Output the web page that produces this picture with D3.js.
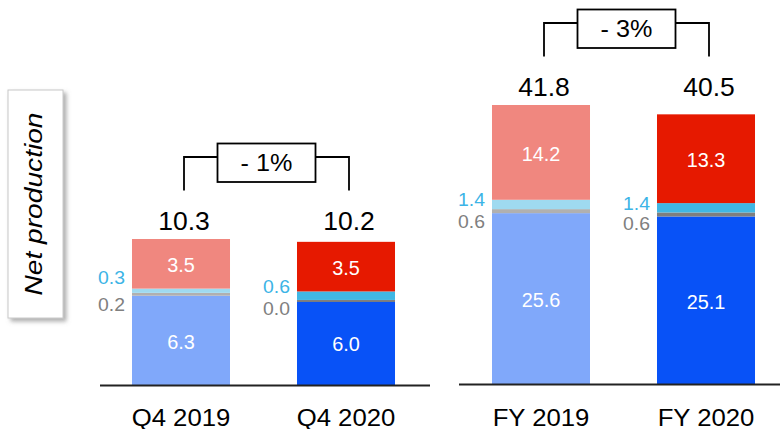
<html>
<head>
<meta charset="utf-8">
<script src="https://cdnjs.cloudflare.com/ajax/libs/d3/7.8.5/d3.min.js"></script>
<style>
  body { margin: 0; background: #fff; }
  text { font-family: "Liberation Sans", Arial, sans-serif; }
</style>
</head>
<body>
<div id="chart"></div>
<script>
"use strict";

// ---- data ----
var quarterLabels = ["Q4 2019", "Q4 2020"];
var quarterBase   = [6.3, 6.0];
var quarterGrey   = [0.2, 0.0];
var quarterCyan   = [0.3, 0.6];
var quarterRed    = [3.5, 3.5];
var quarterTotal  = [10.3, 10.2];
var quarterChange = "- 1%";

var yearLabels = ["FY 2019", "FY 2020"];
var yearBase   = [25.6, 25.1];
var yearGrey   = [0.6, 0.6];
var yearCyan   = [1.4, 1.4];
var yearRed    = [14.2, 13.3];
var yearTotal  = [41.8, 40.5];
var yearChange = "- 3%";

// colours: index 0 = 2019 (pale), index 1 = 2020 (strong)
var colBase = ["#80A8FA", "#0852F7"];
var colGrey = ["#B0B0B0", "#7F7F7F"];
var colCyan = ["#9FDAF0", "#40B7E4"];
var colRed  = ["#F0877F", "#E61900"];

var W = 780, H = 429;
var SX = 1.02; // slide text is a touch wider than Liberation

var svg = d3.select("#chart").append("svg")
  .attr("width", W).attr("height", H);

// shadow for the little y label card
var defs = svg.append("defs");
var f = defs.append("filter").attr("id", "shadow")
  .attr("x", "-20%").attr("y", "-10%").attr("width", "150%").attr("height", "130%");
f.append("feDropShadow").attr("dx", 3).attr("dy", 3).attr("stdDeviation", 2)
  .attr("flood-color", "#777").attr("flood-opacity", 0.6);

// helper to put text on the page
function label(g, x, y, str, size, color, anchor, sx) {
  return g.append("text")
    .attr("transform", "translate(" + x + "," + y + ") scale(" + (sx || SX) + ",1)")
    .attr("text-anchor", anchor || "middle")
    .style("font-size", size + "px")
    .style("fill", color)
    .text(str);
}

// ---- y label card ----
svg.append("rect")
  .attr("x", 8).attr("y", 90).attr("width", 55).attr("height", 228)
  .attr("fill", "#fff").attr("stroke", "#c8c8c8").attr("stroke-width", 1)
  .attr("filter", "url(#shadow)");
svg.append("text")
  .attr("transform", "translate(42,204) rotate(-90)")
  .attr("text-anchor", "middle")
  .attr("textLength", 183).attr("lengthAdjust", "spacingAndGlyphs")
  .style("font-size", "24px").style("font-style", "italic").style("fill", "#000")
  .text("Net production");

// ---- panels ----
var panels = [
  {
    cats: quarterLabels, base: quarterBase, grey: quarterGrey, cyan: quarterCyan,
    red: quarterRed, total: quarterTotal, change: quarterChange,
    x: d3.scaleBand().domain(quarterLabels).range([98.5, 428.5]).paddingInner(0.406).paddingOuter(0.203),
    y: d3.scaleLinear().domain([0, 10.3]).range([385, 239]),
    axis: [100, 430],
    // nudges for the small side labels (cyan up, grey down)
    nudgeCyan: [-14, -9.5], nudgeGrey: [10, 8]
  },
  {
    cats: yearLabels, base: yearBase, grey: yearGrey, cyan: yearCyan,
    red: yearRed, total: yearTotal, change: yearChange,
    x: d3.scaleBand().domain(yearLabels).range([458.5, 788.5]).paddingInner(0.406).paddingOuter(0.203),
    y: d3.scaleLinear().domain([0, 41.8]).range([384, 105]),
    axis: [459, 780],
    nudgeCyan: [-5, -5], nudgeGrey: [10, 9]
  }
];

panels.forEach(function (p) {
  var g = svg.append("g");
  var x = p.x, y = p.y;
  var bw = x.bandwidth();

  p.cats.forEach(function (cat, i) {
    var x0 = x(cat);
    var cx = x0 + bw / 2;
    // stack from the bottom up
    var segs = [
      { v: p.base[i], c: colBase[i] },
      { v: p.grey[i], c: colGrey[i] },
      { v: p.cyan[i], c: colCyan[i] },
      { v: p.red[i],  c: colRed[i] }
    ];
    var cum = 0;
    segs.forEach(function (s) {
      s.y0 = cum; cum += s.v; s.y1 = cum;
      var top = y(s.y1), h = y(s.y0) - y(s.y1);
      // zero values still show a hairline on the slide
      if (h < 2) h = 2;
      g.append("rect")
        .attr("x", x0).attr("y", top).attr("width", bw).attr("height", h)
        .attr("fill", s.c);
    });

    // white labels inside the big segments
    [segs[0], segs[3]].forEach(function (s) {
      var mid = (y(s.y0) + y(s.y1)) / 2;
      label(g, cx, mid + 8.5, s.v.toFixed(1), 19.5, "#fff");
    });

    // small labels to the left of the bar
    var cyMid = (y(segs[2].y0) + y(segs[2].y1)) / 2;
    var gyMid = (y(segs[1].y0) + y(segs[1].y1)) / 2;
    label(g, x0 - 7, cyMid + p.nudgeCyan[i] + 7, segs[2].v.toFixed(1), 19, "#3CB4E6", "end");
    label(g, x0 - 7, gyMid + p.nudgeGrey[i] + 7, segs[1].v.toFixed(1), 19, "#808080", "end");

    // category under the axis
    label(g, cx, 425.5, cat, 24.5, "#000", "middle", 1.05);
  });

  // totals, lined up on the taller bar
  var topY = y(d3.max(p.total));
  p.cats.forEach(function (cat, i) {
    label(g, x(cat) + bw / 2 + 3, topY - 9, p.total[i].toFixed(1), 26.5, "#000", "middle", 1);
  });

  // bracket with the change box
  var xa = x(p.cats[0]) + bw / 2 + 3;
  var xb = x(p.cats[1]) + bw / 2 + 3;
  var xm = (xa + xb) / 2;
  var boxW = 98, boxTop = topY - 95.5, boxBot = topY - 57;
  var hy = topY - 82, vy = topY - 48.5;
  g.append("path")
    .attr("d", "M" + xa + "," + vy + "V" + hy + "H" + (xm - boxW / 2) +
               "M" + (xm + boxW / 2) + "," + hy + "H" + xb + "V" + vy)
    .attr("fill", "none").attr("stroke", "#000").attr("stroke-width", 1.8);
  g.append("rect")
    .attr("x", xm - boxW / 2).attr("y", boxTop).attr("width", boxW).attr("height", boxBot - boxTop)
    .attr("fill", "#fff").attr("stroke", "#000").attr("stroke-width", 1.8);
  label(g, xm, (boxTop + boxBot) / 2 + 8.5, p.change, 24, "#000", "middle", 1.05);

  // baseline
  g.append("line")
    .attr("x1", p.axis[0]).attr("x2", p.axis[1])
    .attr("y1", y(0) + 0.5).attr("y2", y(0) + 0.5)
    .attr("stroke", "#222").attr("stroke-width", 2);
});
</script>
</body>
</html>
